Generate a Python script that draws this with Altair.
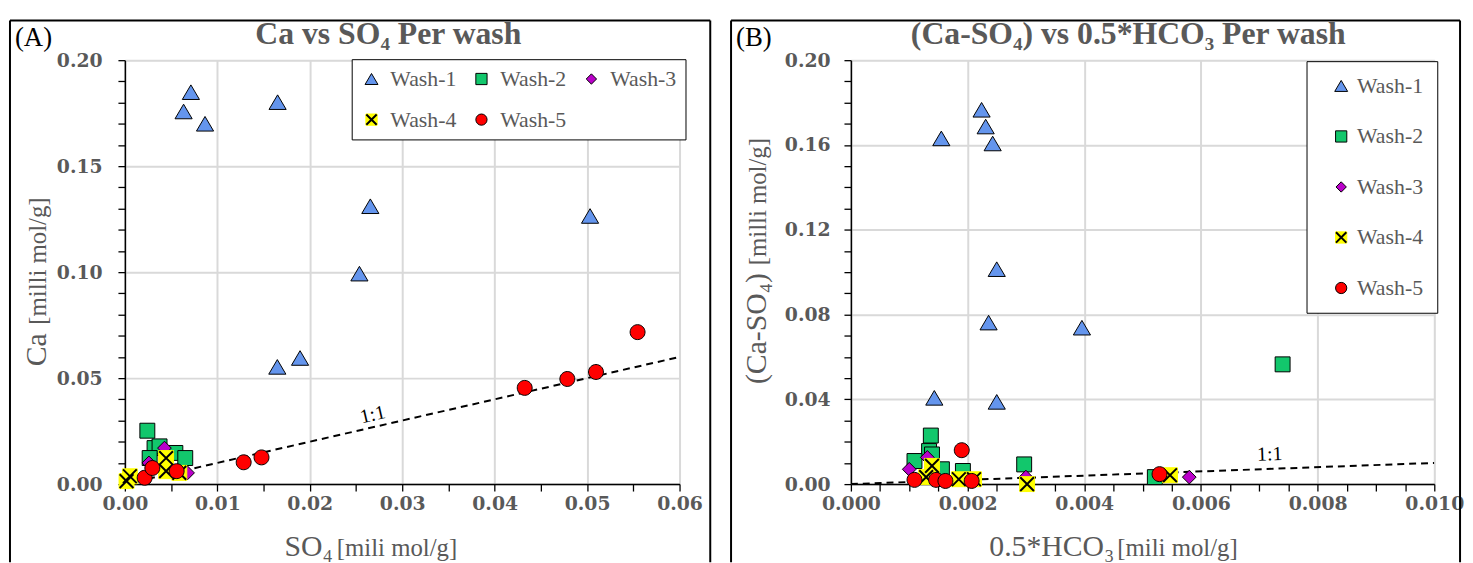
import altair as alt
import pandas as pd

WASH = ["Wash-1", "Wash-2", "Wash-3", "Wash-4", "Wash-5"]

# ---------------- Panel (A): Ca vs SO4 ----------------
a_w1_x = [0.00714, 0.00635, 0.00867, 0.01652, 0.02655, 0.02537, 0.01649, 0.01895, 0.05032]
a_w1_y = [0.1849, 0.1758, 0.1700, 0.1802, 0.1311, 0.0993, 0.0553, 0.0595, 0.1265]
a_w2_x = [0.00243, 0.00321, 0.00375, 0.00268, 0.00546, 0.00653]
a_w2_y = [0.0252, 0.0170, 0.0178, 0.0123, 0.0147, 0.0123]
a_w3_x = [0.00428, 0.00678, 0.00260]
a_w3_y = [0.0170, 0.0053, 0.0100]
a_w4_x = [0.00054, 0.00446, 0.00446, 0.00589, 0.00018]
a_w4_y = [0.0037, 0.0123, 0.0061, 0.0053, 0.0014]
a_w5_x = [0.05546, 0.05096, 0.04786, 0.04325, 0.01478, 0.01285, 0.00214, 0.00297, 0.00560]
a_w5_y = [0.0717, 0.0529, 0.0496, 0.0454, 0.0126, 0.0103, 0.0030, 0.0076, 0.0061]
a_line_x = [0.0, 0.06]
a_line_y = [0.0, 0.06]
a_lab_x = [0.0268]
a_lab_y = [0.0327]

# ---------------- Panel (B): (Ca-SO4) vs 0.5*HCO3 ----------------
b_w1_x = [0.00224, 0.00231, 0.00243, 0.00155, 0.00250, 0.00236, 0.00396, 0.00143, 0.00250]
b_w1_y = [0.1766, 0.1687, 0.1607, 0.1631, 0.1014, 0.0762, 0.0738, 0.0407, 0.0388]
b_w2_x = [0.00740, 0.00137, 0.00134, 0.00139, 0.00109, 0.00156, 0.00192, 0.00297, 0.00521]
b_w2_y = [0.0565, 0.0229, 0.0156, 0.0140, 0.0109, 0.0070, 0.0062, 0.0093, 0.0033]
b_w3_x = [0.00100, 0.00131, 0.00300, 0.00580]
b_w3_y = [0.0070, 0.0126, 0.0033, 0.0033]
b_w4_x = [0.00139, 0.00129, 0.00185, 0.00211, 0.00302, 0.00547]
b_w4_y = [0.0086, 0.0033, 0.0023, 0.0023, 0.0000, 0.0042]
b_w5_x = [0.00190, 0.00109, 0.00146, 0.00162, 0.00207, 0.00529]
b_w5_y = [0.0160, 0.0020, 0.0020, 0.0015, 0.0015, 0.0047]
b_line_x = [0.0, 0.01]
b_line_y = [0.0, 0.01]
b_lab_x = [0.00718]
b_lab_y = [0.0140]

# axis tick positions (all ticks; labels/grid only on majors)
a_xticks = [round(i * 0.005, 4) for i in range(13)]
a_yticks = [round(i * 0.01, 3) for i in range(21)]
b_xticks = [round(i * 0.0005, 5) for i in range(21)]
b_yticks = [round(i * 0.01, 3) for i in range(21)]

# ---------------- styles ----------------
GRAY = "#595959"
SERIF = "Liberation Serif"
TICKFONT = "DejaVu Serif"
FILLS = ["#6495ED", "#12C76C", "#BA00CA", "#FFFF00", "#FF0000"]
STROKES = ["#000000", "#000000", "#000000", "#FFFF00", "#000000"]
TRI = "M0,-0.85L1,0.85L-1,0.85Z"
SQ = "M-0.87,-0.87L0.87,-0.87L0.87,0.87L-0.87,0.87Z"
DIA = "M0,-0.8L0.8,0L0,0.8L-0.8,0Z"
CIRC = "M-0.87,0A0.87,0.87 0 1,0 0.87,0A0.87,0.87 0 1,0 -0.87,0Z"
XPATH = "M-0.8,-0.8L0.8,0.8M-0.8,0.8L0.8,-0.8"
EMPTY = "M0,0"
SHAPES = [TRI, SQ, DIA, SQ, CIRC]
XSHAPES = [EMPTY, EMPTY, EMPTY, XPATH, EMPTY]
MSIZE = 300

one = pd.DataFrame({"k": [0]})


def make_df(xs_list, ys_list):
    rows = []
    for name, xs, ys in zip(WASH, xs_list, ys_list):
        for x, y in zip(xs, ys):
            rows.append({"wash": name, "x": x, "y": y})
    return pd.DataFrame(rows)


def txt(text, x, y, size, color=GRAY, weight="normal", align="left", angle=0):
    return alt.Chart(one).mark_text(
        text=text, font=SERIF, fontSize=size, color=color, fontWeight=weight,
        align=align, baseline="alphabetic", angle=angle,
    ).encode(x=alt.value(x), y=alt.value(y))


def frame(x1, x2, y1, y2):
    kw = dict(color="black", strokeWidth=2)
    left = alt.Chart(one).mark_rule(**kw).encode(x=alt.value(x1), y=alt.value(y1), y2=alt.value(y2))
    top = alt.Chart(one).mark_rule(**kw).encode(x=alt.value(x1), x2=alt.value(x2), y=alt.value(y1))
    right = alt.Chart(one).mark_rule(**kw).encode(x=alt.value(x2), y=alt.value(y1), y2=alt.value(y2))
    return [left, top, right]


def axis(vals, mul, fmt, labpad):
    test = f"abs(datum.value*{mul} - round(datum.value*{mul})) < 0.001"
    return alt.Axis(
        values=vals, title=None,
        labelExpr=f"({test}) ? format(datum.value, '{fmt}') : ''",
        grid=True, gridColor="#D9D9D9", gridWidth=2,
        gridOpacity={"condition": {"test": test, "value": 1}, "value": 0},
        tickSize=7, tickColor="black", tickWidth=1.3,
        domainColor="black", domainWidth=1.5,
        labelFont=TICKFONT, labelFontWeight="bold", labelFontSize=19, labelColor=GRAY,
        labelPadding=labpad, labelFlush=False, labelOverlap=False,
    )


def panel(df, W, H, xdom, ydom, xax, yax, line_x, line_y, lab_x, lab_y, lab_angle,
          leg, texts, fr):
    X = alt.X("x:Q", scale=alt.Scale(domain=xdom, nice=False), axis=xax)
    Y = alt.Y("y:Q", scale=alt.Scale(domain=ydom, nice=False), axis=yax)

    line = alt.Chart(pd.DataFrame({"x": line_x, "y": line_y})).mark_line(
        color="black", strokeWidth=2, strokeDash=[7, 5], clip=True
    ).encode(x=X, y=Y)
    lab = alt.Chart(pd.DataFrame({"x": lab_x, "y": lab_y})).mark_text(
        text="1:1", font=SERIF, fontSize=20, color="black", angle=lab_angle, baseline="middle"
    ).encode(x=X, y=Y)

    L1 = alt.Legend(title=None, fillColor="white", strokeColor="black",
                    labelFont=SERIF, labelFontSize=22, labelColor=GRAY,
                    symbolSize=170, symbolStrokeWidth=1, **leg)
    L2 = alt.Legend(title=None, labelFont=SERIF, labelFontSize=22, labelOpacity=0,
                    symbolSize=170, symbolStrokeWidth=2, symbolStrokeColor="black",
                    symbolFillColor="transparent", **leg)

    pts = alt.Chart(df[df.wash != "Wash-5"]).mark_point(
        filled=True, opacity=1, strokeWidth=1, size=MSIZE
    ).encode(
        x=X, y=Y,
        shape=alt.Shape("wash:N", scale=alt.Scale(domain=WASH, range=SHAPES), legend=L1),
        fill=alt.Fill("wash:N", scale=alt.Scale(domain=WASH, range=FILLS), legend=L1),
        stroke=alt.Stroke("wash:N", scale=alt.Scale(domain=WASH, range=STROKES), legend=L1),
    )
    xov = alt.Chart(df[df.wash == "Wash-4"]).mark_point(
        filled=False, opacity=1, strokeWidth=2, color="black", size=MSIZE
    ).encode(
        x=X, y=Y,
        shape=alt.Shape("wash:N", scale=alt.Scale(domain=WASH, range=XSHAPES), legend=L2),
    )
    red = alt.Chart(df[df.wash == "Wash-5"]).mark_point(
        filled=True, opacity=1, strokeWidth=1, size=MSIZE, shape=CIRC,
        fill="#FF0000", stroke="black"
    ).encode(x=X, y=Y)

    layers = fr + [txt(*t) for t in texts] + [line, lab, pts, xov, red]
    return alt.layer(*layers).resolve_scale(
        shape="independent", fill="independent", stroke="independent"
    ).properties(width=W, height=H)


dfA = make_df([a_w1_x, a_w2_x, a_w3_x, a_w4_x, a_w5_x], [a_w1_y, a_w2_y, a_w3_y, a_w4_y, a_w5_y])
dfB = make_df([b_w1_x, b_w2_x, b_w3_x, b_w4_x, b_w5_x], [b_w1_y, b_w2_y, b_w3_y, b_w4_y, b_w5_y])

textsA = [
    ("(A)", -111, -14, 27, "black"),
    ("Ca vs SO₄ Per wash", 266, -16, 32, GRAY, "bold", "center"),
    ("SO₄", 210, 501, 30, GRAY, "normal", "right"),
    ("[mili mol/g]", 214, 501, 25, GRAY, "normal", "left"),
    ("Ca", -80, 309, 30, GRAY, "normal", "left", 270),
    ("[milli mol/g]", -80, 267, 25, GRAY, "normal", "left", 270),
]
textsB = [
    ("(B)", -116, -14, 27, "black"),
    ("(Ca-SO₄) vs 0.5*HCO₃ Per wash", 280, -16, 32, GRAY, "bold", "center"),
    ("0.5*HCO₃", 266, 501, 30, GRAY, "normal", "right"),
    ("[mili mol/g]", 269, 501, 25, GRAY, "normal", "left"),
    ("(Ca-SO₄)", -86, 327, 30, GRAY, "normal", "left", 270),
    ("[milli mol/g]", -86, 207, 25, GRAY, "normal", "left", 270),
]

legA = dict(orient="none", legendX=229, legendY=-1, columns=3, direction="horizontal",
            padding=9, rowPadding=19, columnPadding=14, labelOffset=8)
legB = dict(orient="none", legendX=460, legendY=1, columns=1, direction="vertical",
            padding=14, rowPadding=29, labelOffset=5, symbolOffset=10)

chartA = panel(dfA, 560, 428, [0, 0.06], [0, 0.2],
               axis(a_xticks, 100, ".2f", 4), axis(a_yticks, 20, ".2f", 16),
               a_line_x, a_line_y, a_lab_x, a_lab_y, 347, legA, textsA,
               frame(-116, 591, -40, 507))
chartB = panel(dfB, 589, 428, [0, 0.01], [0, 0.2],
               axis(b_xticks, 500, ".3f", 4), axis(b_yticks, 25, ".2f", 14),
               b_line_x, b_line_y, b_lab_x, b_lab_y, 358, legB, textsB,
               frame(-121, 615, -40, 507))

chart = alt.hconcat(chartA, chartB, spacing=17,
                    padding={"left": 0, "top": 7, "right": 0, "bottom": 0}).resolve_scale(
    x="independent", y="independent"
).configure_view(stroke="black", strokeWidth=1.5).configure(background="white")

chart.save("out.html", embed_options={"renderer": "svg", "actions": False})
